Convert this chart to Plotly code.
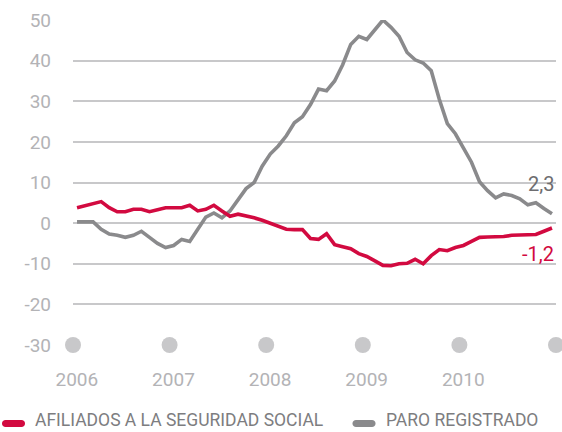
import plotly.graph_objects as go

# ---- data ----
years = [2006, 2007, 2008, 2009, 2010, 2011]
year_labels = ["2006", "2007", "2008", "2009", "2010"]

afiliados = [
    3.8, 4.3, 4.8, 5.3, 3.8, 2.8, 2.8, 3.4, 3.4, 2.8, 3.3, 3.8,
    3.8, 3.8, 4.4, 3.0, 3.4, 4.4, 3.0, 1.7, 2.2, 1.8, 1.3, 0.7,
    0.0, -0.6, -1.5, -1.6, -1.6, -3.8, -4.0, -2.6, -5.3, -5.8, -6.3, -7.5,
    -8.2, -9.3, -10.4, -10.5, -10.0, -9.9, -8.9, -10.0, -8.0, -6.5, -6.8, -6.0,
    -5.5, -4.5, -3.5, -3.4, -3.4, -3.3, -3.0, -3.0, -3.0, -2.8, -2.0, -1.2,
]
paro = [
    0.3, 0.3, 0.3, -1.5, -2.7, -3.0, -3.5, -3.0, -2.0, -3.5, -5.0, -6.0,
    -5.5, -4.0, -4.5, -1.5, 1.5, 2.5, 1.3, 3.0, 5.8, 8.5, 10.0, 14.0,
    17.0, 19.0, 21.5, 24.7, 26.2, 29.2, 33.0, 32.6, 35.0, 39.0, 44.0, 46.0,
    45.2, 47.6, 50.0, 48.2, 46.0, 42.0, 40.2, 39.4, 37.5, 30.5, 24.5, 22.0,
    18.5, 15.0, 10.2, 8.0, 6.2, 7.2, 6.8, 6.0, 4.5, 5.0, 3.6, 2.3,
]
months = [2006 + (i + 0.5) / 12 for i in range(len(paro))]

ytick_vals = [-30, -20, -10, 0, 10, 20, 30, 40, 50]
ytick_text = ["-30", "-20", "-10", "0", "10", "20", "30", "40", "50"]

RED = "#d20a40"
GREY = "#8a8a8c"
LIGHT = "#c8c8ca"
TICK = "#b3b3b6"
FONT = "Roboto"

fig = go.Figure()

# year markers on the bottom line
fig.add_trace(go.Scatter(
    x=years, y=[-30] * len(years), mode="markers",
    marker=dict(size=16, color=LIGHT), cliponaxis=False,
    hoverinfo="skip", showlegend=False,
))
fig.add_trace(go.Scatter(
    x=months, y=paro, mode="lines", name="PARO REGISTRADO",
    line=dict(color=GREY, width=3.6), showlegend=False,
))
fig.add_trace(go.Scatter(
    x=months, y=afiliados, mode="lines", name="AFILIADOS A LA SEGURIDAD SOCIAL",
    line=dict(color=RED, width=3.6), showlegend=False,
))

L, R, T, B = 73, 6, 20, 87
W, H = 562, 432
pw = W - L - R
ph = H - T - B

def px_x(p):
    return (p - L) / pw

def px_y(p):
    return (H - B - p) / ph

pill = ("M -8,-3.5 L 8,-3.5 C 10,-3.5 11.5,-2 11.5,0 C 11.5,2 10,3.5 8,3.5 "
        "L -8,3.5 C -10,3.5 -11.5,2 -11.5,0 C -11.5,-2 -10,-3.5 -8,-3.5 Z")

shapes = []
for cx, col in [(13.5, RED), (364, GREY)]:
    shapes.append(dict(
        type="path", xref="paper", yref="paper",
        xsizemode="pixel", ysizemode="pixel",
        xanchor=px_x(cx), yanchor=px_y(423.5),
        path=pill, fillcolor=col, line=dict(width=0),
    ))

legend_font = dict(family=FONT, size=17.5, color="#7d7d80")
annotations = [
    dict(x=px_x(33), y=px_y(432), xref="paper", yref="paper",
         text="AFILIADOS A LA SEGURIDAD SOCIAL", showarrow=False,
         xanchor="left", yanchor="bottom", font=legend_font),
    dict(x=px_x(384), y=px_y(432), xref="paper", yref="paper",
         text="PARO REGISTRADO", showarrow=False,
         xanchor="left", yanchor="bottom", font=legend_font),
    dict(x=2011, y=9.7, xref="x", yref="y", text="2,3", showarrow=False,
         xanchor="right", yanchor="middle",
         font=dict(family=FONT, size=20, color="#6d6d70")),
    dict(x=2011, y=-7.5, xref="x", yref="y", text="-1,2", showarrow=False,
         xanchor="right", yanchor="middle",
         font=dict(family=FONT, size=20, color=RED)),
]

fig.update_layout(
    width=W, height=H,
    margin=dict(l=L, r=R, t=T, b=B),
    paper_bgcolor="white", plot_bgcolor="white",
    showlegend=False,
    shapes=shapes, annotations=annotations,
    xaxis=dict(
        range=[2006, 2011], showgrid=False, zeroline=False, showline=False,
        tickmode="array", tickvals=[y + 0.04 for y in years[:-1]],
        ticktext=year_labels, ticks="", ticklabelstandoff=21,
        tickfont=dict(family=FONT, size=19, color=TICK),
    ),
    yaxis=dict(
        range=[-30, 50], showgrid=True, gridcolor=LIGHT, gridwidth=1.5,
        zeroline=False, showline=False,
        tickmode="array", tickvals=ytick_vals, ticktext=ytick_text,
        ticks="", ticklabelstandoff=21,
        tickfont=dict(family=FONT, size=19, color=TICK),
    ),
)

fig.write_html(
    "out.html",
    config={"displayModeBar": False},
    post_script="document.body.style.margin='0';document.body.style.overflow='hidden';",
)
